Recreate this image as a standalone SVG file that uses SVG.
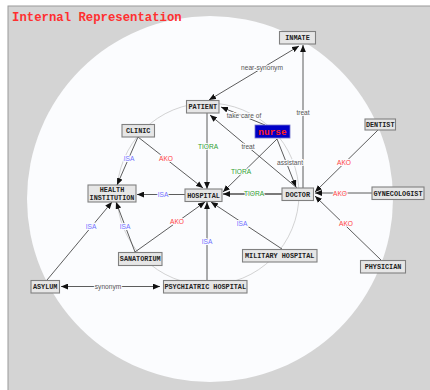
<svg xmlns="http://www.w3.org/2000/svg" width="430" height="390" viewBox="0 0 430 390">
<defs>
<style>
.node rect{fill:#e6e6e6;stroke:#808080;stroke-width:1.1}
.node text{font-family:"Liberation Mono",monospace;font-weight:bold;font-size:6.8px;fill:#222;text-anchor:middle}
.e{stroke:#333;stroke-width:0.8;fill:none}
.lbl{font-family:"Liberation Sans",sans-serif;font-size:6.6px;text-anchor:middle;paint-order:stroke;stroke:#fbfcfe;stroke-width:2px}
.g{fill:#555}
.isa{fill:#7070ff}
.ako{fill:#ff4040}
.tio{fill:#30a030}
</style>
<marker id="ar" markerUnits="userSpaceOnUse" markerWidth="7" markerHeight="6" refX="6" refY="2.5" orient="auto-start-reverse" viewBox="0 0 6 5">
<path d="M0,0 L6,2.5 L0,5 z" fill="#111"/>
</marker>
</defs>
<rect x="0" y="0" width="430" height="390" fill="#ffffff"/>
<rect x="8" y="6" width="423" height="385" fill="#d4d4d4" stroke="#9a9a9a" stroke-width="1"/>
<circle cx="210" cy="199" r="183" fill="#fbfcfe"/>
<circle cx="208" cy="194" r="91" fill="none" stroke="#c0c0c0" stroke-width="0.7"/>
<text x="12" y="21" font-family="Liberation Mono, monospace" font-weight="bold" font-size="12.3" fill="#ff3030">Internal Representation</text>
<g id="connectors">
<line class="e" x1="209" y1="100" x2="299" y2="46" marker-start="url(#ar)" marker-end="url(#ar)"/>
<text class="lbl g" x="262" y="70">near-synonym</text>
<line class="e" x1="303" y1="188" x2="303" y2="45" marker-end="url(#ar)"/>
<text class="lbl g" x="303" y="115">treat</text>
<line class="e" x1="265" y1="125" x2="221" y2="107" marker-end="url(#ar)"/>
<text class="lbl g" x="244" y="118">take care of</text>
<line class="e" x1="297" y1="188" x2="210" y2="115" marker-end="url(#ar)"/>
<text class="lbl g" x="248" y="149">treat</text>
<line class="e" x1="277" y1="139" x2="296" y2="187" marker-end="url(#ar)"/>
<text class="lbl g" x="290" y="165">assistant</text>
<line class="e" x1="277" y1="139" x2="223" y2="192" marker-end="url(#ar)"/>
<text class="lbl tio" x="241" y="174">TIORA</text>
<line class="e" x1="207" y1="113" x2="207" y2="189" marker-end="url(#ar)"/>
<text class="lbl tio" x="208" y="149">TIORA</text>
<line x1="282" y1="194" x2="223" y2="194" stroke="#aaa" stroke-width="2"/>
<line class="e" x1="282" y1="194" x2="223" y2="194" marker-end="url(#ar)"/>
<text class="lbl tio" x="254" y="195.5">TIORA</text>
<line class="e" x1="138" y1="137" x2="203" y2="188" marker-end="url(#ar)"/>
<text class="lbl ako" x="166" y="161">AKO</text>
<line class="e" x1="138" y1="137" x2="117" y2="185" marker-end="url(#ar)"/>
<text class="lbl isa" x="129" y="161">ISA</text>
<line class="e" x1="185" y1="194.5" x2="137" y2="194.5" marker-end="url(#ar)"/>
<text class="lbl isa" x="163" y="197">ISA</text>
<line class="e" x1="135" y1="252" x2="116" y2="202" marker-end="url(#ar)"/>
<text class="lbl isa" x="125" y="229">ISA</text>
<line class="e" x1="135" y1="252" x2="205" y2="202" marker-end="url(#ar)"/>
<text class="lbl ako" x="177" y="224">AKO</text>
<line class="e" x1="47" y1="280" x2="112" y2="202" marker-end="url(#ar)"/>
<text class="lbl isa" x="91" y="229">ISA</text>
<line class="e" x1="207" y1="280" x2="207" y2="202" marker-end="url(#ar)"/>
<text class="lbl isa" x="207" y="244">ISA</text>
<line class="e" x1="282" y1="249" x2="211" y2="202" marker-end="url(#ar)"/>
<text class="lbl isa" x="242" y="226">ISA</text>
<line class="e" x1="61" y1="286.5" x2="160" y2="286.5" marker-start="url(#ar)" marker-end="url(#ar)"/>
<text class="lbl g" x="108" y="289">synonym</text>
<line class="e" x1="378" y1="130" x2="315" y2="192" marker-end="url(#ar)"/>
<text class="lbl ako" x="344" y="165">AKO</text>
<line class="e" x1="372" y1="193" x2="315" y2="193" marker-end="url(#ar)"/>
<text class="lbl ako" x="340" y="195.5">AKO</text>
<line class="e" x1="381" y1="260" x2="315" y2="196" marker-end="url(#ar)"/>
<text class="lbl ako" x="346" y="226">AKO</text>
</g>
<g id="inmate" class="node"><rect x="279.5" y="31.5" width="36" height="12.5"/><text x="297.5" y="40">INMATE</text></g>
<g id="patient" class="node"><rect x="186.5" y="100.5" width="32.5" height="12.5"/><text x="202.8" y="109">PATIENT</text></g>
<g id="clinic" class="node"><rect x="122" y="124.5" width="32.5" height="12.5"/><text x="138.2" y="133">CLINIC</text></g>
<g id="nurse"><rect x="255" y="125" width="35" height="13" fill="#0000c8" stroke="#7777cc" stroke-width="0.8"/><text x="272.5" y="134.5" font-family="Liberation Mono, monospace" font-weight="bold" font-size="9.5" fill="#ff2020" text-anchor="middle">nurse</text></g>
<g id="dentist" class="node"><rect x="365" y="119" width="30.5" height="11"/><text x="380.2" y="127">DENTIST</text></g>
<g id="health-institution" class="node"><rect x="88" y="185" width="48" height="17"/><text x="112" y="192">HEALTH</text><text x="112" y="200">INSTITUTION</text></g>
<g id="hospital" class="node"><rect x="185" y="189" width="37" height="12.5"/><text x="203.5" y="197.5">HOSPITAL</text></g>
<g id="doctor" class="node"><rect x="282" y="188" width="31.5" height="12.5"/><text x="297.8" y="196.5">DOCTOR</text></g>
<g id="gynecologist" class="node"><rect x="372" y="187" width="52" height="12.5"/><text x="398" y="195.5">GYNECOLOGIST</text></g>
<g id="sanatorium" class="node"><rect x="118.5" y="252.5" width="43.5" height="13"/><text x="140.2" y="261.3">SANATORIUM</text></g>
<g id="military-hospital" class="node"><rect x="242.5" y="249.5" width="74.5" height="12.5"/><text x="279.7" y="258">MILITARY HOSPITAL</text></g>
<g id="physician" class="node"><rect x="360.5" y="260.5" width="45" height="12.5"/><text x="383" y="269">PHYSICIAN</text></g>
<g id="asylum" class="node"><rect x="31" y="280.5" width="28.5" height="12.5"/><text x="45.2" y="289">ASYLUM</text></g>
<g id="psychiatric-hospital" class="node"><rect x="163.5" y="280.5" width="83.5" height="12.5"/><text x="205.2" y="289">PSYCHIATRIC HOSPITAL</text></g>
</svg>
